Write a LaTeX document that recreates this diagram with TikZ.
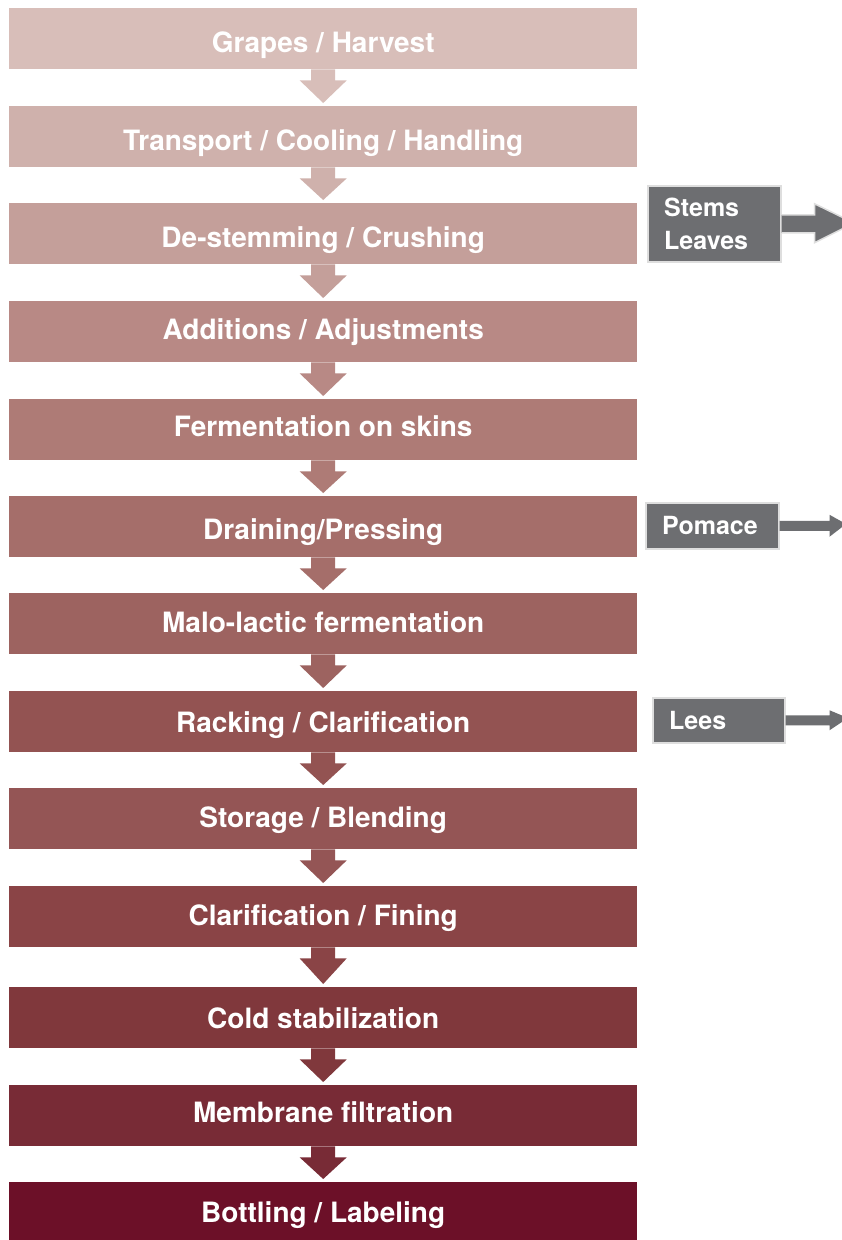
\documentclass[tikz,border=0pt]{standalone}
\usepackage{fontspec}
\setmainfont{TeX Gyre Heros}
\usetikzlibrary{calc}
\definecolor{c1}{HTML}{D8BEB9}
\definecolor{c2}{HTML}{CFB1AC}
\definecolor{c3}{HTML}{C49F9A}
\definecolor{c4}{HTML}{B88985}
\definecolor{c5}{HTML}{AE7B76}
\definecolor{c6}{HTML}{A56E6A}
\definecolor{c7}{HTML}{9D6360}
\definecolor{c8}{HTML}{935352}
\definecolor{c9}{HTML}{945555}
\definecolor{c10}{HTML}{8A4446}
\definecolor{c11}{HTML}{80383C}
\definecolor{c12}{HTML}{782B36}
\definecolor{c13}{HTML}{6C1028}
\definecolor{sidegray}{HTML}{6D6E71}
\definecolor{sideedge}{HTML}{DEDEDE}
\tikzset{
  stepbox/.style={fill=#1, draw=none, minimum width=628pt, minimum height=61pt,
    inner sep=0pt, anchor=north west},
  steptext/.style={text=white, inner sep=0pt, text height=20pt, text depth=0pt,
    font=\fontsize{28}{32}\selectfont\bfseries},
  sidebox/.style={fill=sidegray, draw=sideedge, line width=1.5pt, inner sep=0pt,
    anchor=north west},
  sidetext/.style={text=white, anchor=west, inner sep=0pt, align=left,
    font=\fontsize{25}{33}\selectfont\bfseries},
}
\newcommand{\downarrowblock}[3]{%
  \fill[#3] ($(#1.south)+(-12,0)$) -- ($(#1.south)+(-12,11)$) -- ($(#1.south)+(-23.5,11)$)
    -- ($(#2.north)+(0,-3)$) -- ($(#1.south)+(23.5,11)$) -- ($(#1.south)+(12,11)$)
    -- ($(#1.south)+(12,0)$) -- cycle;}
\begin{document}
\begin{tikzpicture}[x=1pt,y=-1pt]
\clip (0,0) rectangle (842,1240);
\fill[white] (0,0) rectangle (842,1240);
\node[stepbox=c1]  (s1)  at (9,8)    {};
\node[stepbox=c2]  (s2)  at (9,106)  {};
\node[stepbox=c3]  (s3)  at (9,203)  {};
\node[stepbox=c4]  (s4)  at (9,301)  {};
\node[stepbox=c5]  (s5)  at (9,399)  {};
\node[stepbox=c6]  (s6)  at (9,496)  {};
\node[stepbox=c7]  (s7)  at (9,593)  {};
\node[stepbox=c8]  (s8)  at (9,691)  {};
\node[stepbox=c9]  (s9)  at (9,788)  {};
\node[stepbox=c10] (s10) at (9,886)  {};
\node[stepbox=c11] (s11) at (9,987)  {};
\node[stepbox=c12] (s12) at (9,1085) {};
\node[stepbox=c13] (s13) at (9,1182) {};
\node[steptext] (t1)  at ($(s1.center)+(0,4)$)   {Grapes / Harvest};
\node[steptext] (t2)  at ($(s2.center)+(0,4)$)   {Transport / Cooling / Handling};
\node[steptext] (t3)  at ($(s3.center)+(0,4)$)   {De-stemming / Crushing};
\node[steptext] (t4)  at ($(s4.center)+(0,-2)$)  {Additions / Adjustments};
\node[steptext] (t5)  at ($(s5.center)+(0,-3)$)  {Fermentation on skins};
\node[steptext] (t6)  at ($(s6.center)+(0,3)$)   {Draining/Pressing};
\node[steptext] (t7)  at ($(s7.center)+(0,-1)$)  {Malo-lactic fermentation};
\node[steptext] (t8)  at ($(s8.center)+(0,1)$)   {Racking / Clarification};
\node[steptext] (t9)  at ($(s9.center)+(0,-1)$)  {Storage / Blending};
\node[steptext] (t10) at ($(s10.center)+(0,-1)$) {Clarification / Fining};
\node[steptext] (t11) at ($(s11.center)+(0,1)$)  {Cold stabilization};
\node[steptext] (t12) at ($(s12.center)+(0,-3)$) {Membrane filtration};
\node[steptext] (t13) at ($(s13.center)+(0,0)$)  {Bottling / Labeling};
\downarrowblock{s1}{s2}{c1}
\downarrowblock{s2}{s3}{c2}
\downarrowblock{s3}{s4}{c3}
\downarrowblock{s4}{s5}{c4}
\downarrowblock{s5}{s6}{c5}
\downarrowblock{s6}{s7}{c6}
\downarrowblock{s7}{s8}{c7}
\downarrowblock{s8}{s9}{c8}
\downarrowblock{s9}{s10}{c9}
\downarrowblock{s10}{s11}{c10}
\downarrowblock{s11}{s12}{c11}
\downarrowblock{s12}{s13}{c12}
% side outputs
\node[sidebox, minimum width=133pt, minimum height=76pt] (stems) at (647,185) {};
\node[sidetext] (stemst) at ($(stems.west)+(17,0)$) {Stems\\Leaves};
\coordinate (stemsout) at (854,223);
\fill[sidegray] ($(stems.east)+(0,-9)$) -- ($(stems.east)+(33,-9)$) -- ($(stems.east)+(33,-20)$)
  -- (stemsout) -- ($(stems.east)+(33,19)$) -- ($(stems.east)+(33,9)$) -- ($(stems.east)+(0,9)$) -- cycle;
\draw[sideedge, line width=1.5pt] ($(stems.east)+(0,-9)$) -- ($(stems.east)+(33,-9)$) -- ($(stems.east)+(33,-20)$)
  -- (stemsout) -- ($(stems.east)+(33,19)$) -- ($(stems.east)+(33,9)$) -- ($(stems.east)+(0,9)$);
\node[sidebox, minimum width=133pt, minimum height=46pt] (pomace) at (645,502) {};
\node[sidetext] (pomacet) at ($(pomace.west)+(17,0)$) {Pomace};
\coordinate (pomaceout) at (846,524);
\fill[sidegray] ($(pomace.east)+(0,-5)$) -- ($(pomace.east)+(50,-5)$) -- ($(pomace.east)+(50,-11)$)
  -- (pomaceout) -- ($(pomace.east)+(50,11)$) -- ($(pomace.east)+(50,5)$) -- ($(pomace.east)+(0,5)$) -- cycle;
\node[sidebox, minimum width=132pt, minimum height=45pt] (lees) at (652,697) {};
\node[sidetext] (leest) at ($(lees.west)+(17,0)$) {Lees};
\coordinate (leesout) at (848,718);
\fill[sidegray] ($(lees.east)+(0,-5)$) -- ($(lees.east)+(44,-5)$) -- ($(lees.east)+(44,-10)$)
  -- (leesout) -- ($(lees.east)+(44,10)$) -- ($(lees.east)+(44,5)$) -- ($(lees.east)+(0,5)$) -- cycle;
\end{tikzpicture}
\end{document}
